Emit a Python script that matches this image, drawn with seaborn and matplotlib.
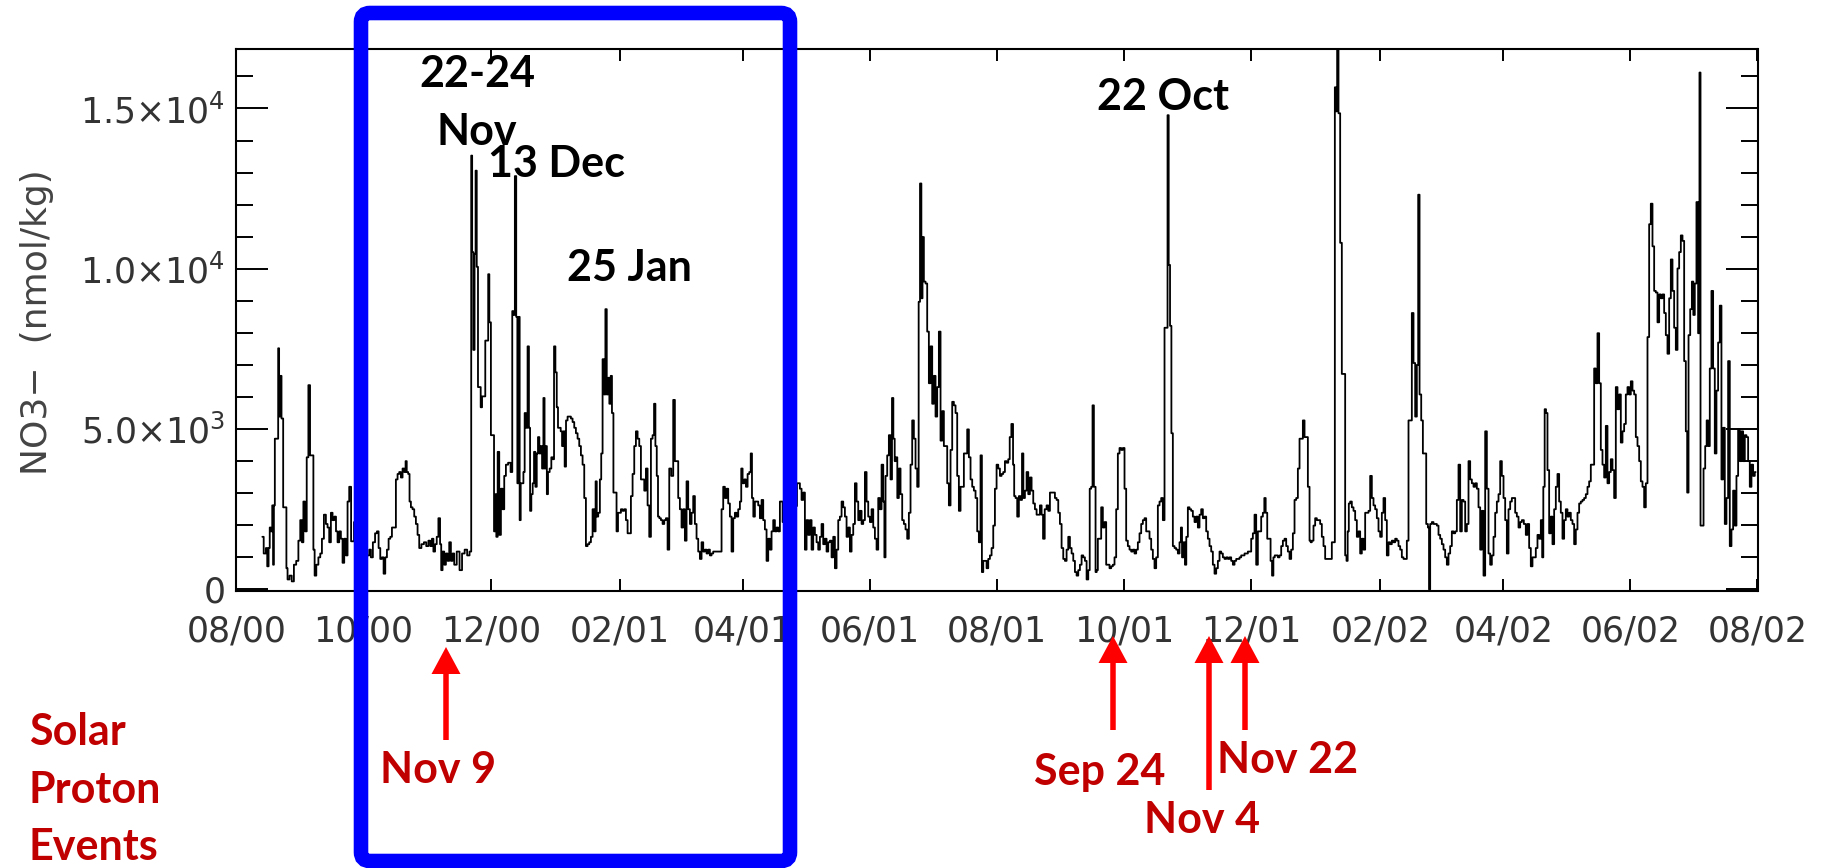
import pandas as pd
import matplotlib
matplotlib.use("Agg")
import matplotlib.pyplot as plt
import matplotlib.dates as mdates
import seaborn as sns
from matplotlib.patches import FancyBboxPatch, FancyArrow
from matplotlib.transforms import IdentityTransform
from matplotlib.ticker import FixedLocator, MultipleLocator, FixedFormatter

# ---------------- data (day offset from 2000-08-01, NO3- nmol/kg) ----------------
START = "2000-08-01"
END = "2002-08-01"

seg_aug_nov00 = [
    (12.4, 1640), (13.7, 1120), (14.5, 1290), (15.0, 720), (15.8, 1290), (16.1, 1930), (16.9, 1810), (17.4, 2620),
    (17.7, 770), (18.2, 2620), (18.6, 4700), (19.8, 4700), (20.2, 7520), (20.7, 5390), (21.2, 6660), (22.0, 5330),
    (22.8, 2560), (23.8, 2560), (24.1, 660), (24.9, 310), (26.0, 430), (27.0, 250), (28.1, 770), (29.2, 890),
    (30.2, 1520), (31.0, 2160), (31.8, 1470), (32.4, 2740), (33.4, 1810), (34.0, 4120), (35.0, 6370), (35.6, 4180),
    (36.6, 4180), (37.2, 1240), (37.8, 430), (38.8, 770), (39.8, 1000), (40.6, 1120), (41.4, 1580), (42.5, 2330),
    (43.3, 2040), (44.1, 1930), (44.9, 1470), (45.7, 2390), (46.5, 2160), (47.4, 2270), (48.1, 1810), (48.9, 1470),
    (49.7, 1810), (50.5, 1580), (51.3, 830), (52.1, 1580), (52.9, 1060), (53.7, 2740), (54.5, 3200), (55.5, 1500),
    (57.3, 2100), (59.1, 1300), (61.0, 900), (63.3, 1060), (64.1, 1240), (64.9, 1000), (66.0, 1470), (67.0, 1750),
    (67.8, 1810), (68.6, 1290), (69.4, 950), (70.2, 1000), (71.0, 490), (71.8, 1000), (72.6, 1240), (73.4, 1580),
    (74.2, 1640), (75.0, 1930), (76.1, 1930), (76.9, 3430), (77.7, 3600), (78.5, 3660), (79.3, 3490), (80.1, 3770),
    (80.9, 3660), (81.4, 4000), (82.0, 3660), (82.8, 3600), (83.3, 2740), (84.1, 2560), (84.9, 2500), (85.7, 2270),
    (86.5, 2040), (87.3, 1700), (88.1, 1290), (89.4, 1410), (90.5, 1470), (91.6, 1350), (92.6, 1520), (93.4, 1350),
    (94.2, 1580), (94.8, 1180), (95.8, 1410), (96.4, 1640), (97.4, 2220), (98.0, 1410), (98.5, 600), (99.3, 1180),
    (100.1, 770), (100.9, 1120), (101.7, 890), (102.5, 1470), (103.3, 890), (104.1, 1120),
]

seg_nov00_feb01 = [
    (104.9, 770), (106.5, 1180), (107.6, 600), (108.9, 1120), (110.1, 1240), (111.3, 1060), (112.4, 1180),
    (112.9, 13530), (113.3, 10520), (114.0, 7470), (114.5, 10470), (115.0, 13060), (115.6, 10060), (116.2, 6310),
    (116.9, 6310), (117.5, 5680), (118.2, 6020), (119.1, 6020), (119.7, 7760), (120.6, 7760), (121.0, 9830),
    (121.7, 8330), (122.5, 4810), (123.3, 4810), (123.9, 1810), (124.4, 2970), (125.0, 1640), (125.7, 4290),
    (126.5, 1700), (127.3, 3140), (128.1, 2500), (128.9, 3540), (129.7, 3890), (131.0, 3950), (132.1, 3660),
    (132.6, 8680), (133.2, 8560), (134.0, 12890), (134.5, 8500), (135.1, 3310), (135.7, 8500), (136.1, 2160),
    (136.7, 3310), (137.4, 3310), (138.0, 3660), (138.6, 5500), (139.3, 5040), (140.1, 7580), (140.6, 5040),
    (141.2, 2450), (141.8, 2970), (142.5, 3310), (143.1, 4290), (143.8, 3200), (144.4, 4240), (145.0, 4750),
    (145.7, 4240), (146.3, 4470), (147.0, 3770), (147.6, 5970), (148.1, 3770), (148.7, 4470), (149.2, 2970),
    (149.8, 3660), (150.8, 3770), (151.4, 4120), (152.1, 4060), (152.7, 7580), (153.4, 6770), (154.0, 5680),
    (154.6, 5040), (155.3, 5040), (155.9, 4930), (156.6, 4470), (157.2, 4930), (157.8, 3830), (158.5, 5270),
    (159.3, 5390), (160.1, 5390), (160.9, 5330), (161.7, 5220), (162.5, 5040), (163.3, 4870), (164.1, 4700),
    (164.9, 4470), (165.7, 4180), (166.5, 3890), (167.3, 2850), (168.1, 1350), (168.9, 1410), (169.7, 1470),
    (170.5, 1640), (171.3, 2500), (172.1, 1810), (172.6, 3370), (173.2, 2270), (174.0, 2390), (174.8, 3430),
    (175.3, 4240), (176.1, 7180), (176.7, 6080), (177.4, 8740), (178.0, 6080), (178.6, 6600), (179.3, 5790),
    (179.9, 6660), (180.5, 5500), (181.3, 3020), (182.0, 3020), (182.8, 1810), (183.4, 2390), (184.1, 2390),
    (184.9, 2500), (185.7, 2450), (186.5, 2500), (187.3, 2160), (188.1, 1750), (188.9, 1750), (189.7, 2910),
    (190.5, 3600), (191.3, 4470), (192.1, 4930), (192.9, 4700), (193.7, 4470), (194.5, 3430), (195.3, 3430),
    (196.1, 3080), (196.9, 3770), (197.7, 2620), (198.5, 1640), (199.3, 4700), (200.1, 4810), (200.7, 5790),
    (201.4, 4470), (202.0, 3540), (202.6, 2270), (203.3, 2220), (204.1, 2160), (204.9, 2040), (205.7, 2160),
    (206.5, 2220), (207.3, 1240), (208.1, 3770),
]

seg_feb01_jun01 = [
    (209.2, 3540), (210.0, 5910), (210.8, 4000), (211.6, 4000), (212.4, 2850), (213.2, 2500), (214.0, 1930),
    (214.8, 2500), (215.6, 1520), (216.4, 3370), (217.2, 2500), (218.0, 2040), (218.8, 2390), (219.6, 2910),
    (220.4, 2040), (221.2, 1580), (222.0, 1180), (222.8, 950), (223.6, 1470), (224.4, 1180), (225.2, 1240),
    (226.0, 1120), (226.8, 1240), (227.6, 1060), (228.4, 1120), (229.2, 1180), (230.8, 1180), (232.4, 1180),
    (233.2, 2500), (234.0, 3200), (234.8, 2850), (235.6, 3140), (236.4, 2680), (237.2, 2270), (238.0, 1180),
    (238.8, 2220), (239.6, 2390), (240.4, 2270), (241.2, 2500), (242.0, 2740), (242.5, 3770), (243.3, 3310),
    (244.1, 3430), (244.9, 3200), (245.7, 3600), (246.5, 3660), (247.1, 4240), (247.7, 2850), (248.4, 2270),
    (249.2, 2740), (250.0, 2740), (250.8, 2620), (251.6, 2220), (252.4, 2790), (253.2, 2160), (254.0, 1870),
    (254.8, 890), (255.6, 1580), (256.4, 1240), (257.2, 1810), (258.0, 2160), (258.8, 1810), (259.6, 1930),
    (260.4, 1810), (261.2, 2740), (263.0, 2100), (265.5, 1700), (268.0, 2600), (270.0, 3310), (270.8, 3140),
    (271.6, 2790), (272.4, 3020), (273.2, 1240), (274.0, 2160), (274.8, 1700), (275.6, 2160), (276.4, 1240),
    (277.2, 1930), (278.0, 1700), (278.8, 1470), (279.6, 1240), (280.4, 1640), (281.2, 2040), (282.0, 1410),
    (282.8, 1580), (283.6, 1180), (284.4, 1470), (285.2, 1520), (286.0, 1000), (286.8, 1640), (287.6, 660),
    (288.4, 1240), (289.2, 2160), (290.0, 2270), (290.8, 2740), (291.6, 2560), (292.4, 2270), (293.2, 1640),
    (294.0, 1930), (294.8, 1180), (295.6, 1700), (296.4, 2040), (297.2, 3310), (298.0, 2740), (298.8, 2160),
    (299.6, 2450), (300.4, 2040), (301.2, 2160), (302.0, 3660), (302.8, 2740), (303.6, 2270), (304.4, 2100),
    (305.2, 2500), (306.0, 1930), (306.8, 1580), (307.6, 1240), (308.4, 2850), (309.2, 2500), (310.0, 3890),
    (310.8, 2740),
]

seg_jun01_sep01 = [
    (311.1, 1000), (311.9, 3540), (312.7, 4180), (313.5, 4810), (314.3, 3430), (314.9, 5970), (315.6, 4700),
    (316.2, 4000), (316.8, 4120), (317.5, 2850), (318.3, 3770), (319.1, 2970), (319.9, 2160), (320.7, 2040),
    (321.5, 1870), (322.3, 1580), (323.1, 2390), (323.9, 3890), (324.7, 5270), (325.5, 4700), (326.3, 3770),
    (327.1, 3200), (327.7, 8970), (328.4, 12660), (329.0, 9080), (329.5, 10990), (330.3, 9600), (331.1, 9540),
    (331.9, 8040), (332.7, 6430), (333.5, 7580), (334.3, 5790), (335.1, 6660), (335.9, 5390), (336.7, 6310),
    (337.5, 8040), (338.3, 4640), (339.1, 5560), (339.9, 4470), (340.7, 4470), (341.5, 3310), (342.3, 2620),
    (343.1, 4350), (343.9, 5850), (344.7, 5740), (345.5, 5500), (346.3, 3540), (347.1, 2450), (347.9, 3200),
    (348.7, 3200), (349.5, 4240), (350.3, 4240), (351.1, 4990), (351.9, 4120), (352.7, 3430), (353.5, 3200),
    (354.3, 3080), (355.1, 2850), (355.9, 1810), (356.7, 1470), (357.5, 4180), (358.0, 540), (358.8, 890),
    (359.6, 890), (360.4, 660), (361.2, 950), (362.0, 1060), (362.8, 1290), (363.6, 1990), (364.4, 3140),
    (365.2, 3890), (366.0, 3770), (366.8, 3540), (367.6, 3600), (368.4, 3660), (369.2, 4000), (370.0, 3950),
    (370.8, 4060), (371.4, 4750), (372.4, 5160), (373.0, 3890), (373.5, 2910), (374.3, 2850), (375.1, 2270),
    (375.9, 2910), (376.7, 2790), (377.3, 4240), (378.0, 2850), (378.8, 3080), (379.6, 3660), (380.4, 2970),
    (381.2, 3490), (382.0, 3080), (382.8, 2680), (383.6, 2500), (384.4, 2330), (385.2, 2330), (386.0, 2620),
    (386.8, 2330), (387.4, 1580), (388.4, 2500), (389.2, 2620), (390.0, 2450), (390.8, 3020), (391.6, 3020),
    (392.4, 3020), (393.2, 2850), (394.0, 2790), (394.8, 2390), (395.6, 2040), (396.4, 1290), (397.2, 950),
    (398.0, 890), (398.8, 1240), (399.6, 1640), (400.4, 1290), (401.2, 1120), (402.0, 890), (402.8, 540),
    (403.6, 430), (404.4, 600), (405.2, 770), (406.0, 1060), (406.8, 1000), (407.6, 890), (408.4, 310),
    (409.2, 600), (409.8, 3140), (410.6, 3200), (411.1, 5740), (411.9, 3200), (412.7, 540),
]

seg_sep01_dec01 = [
    (413.0, 600), (413.8, 1580), (414.6, 1580), (415.4, 2560), (416.2, 1930), (417.0, 2100), (417.8, 770),
    (418.6, 770), (419.4, 660), (420.2, 720), (421.0, 770), (421.8, 1000), (422.6, 2500), (423.4, 4240),
    (424.2, 4410), (425.0, 4350), (425.8, 4410), (426.6, 3140), (427.4, 1520), (428.2, 1350), (429.0, 1240),
    (429.8, 1180), (430.6, 1240), (431.4, 1120), (432.2, 1240), (433.0, 1470), (433.8, 1750), (434.6, 2040),
    (435.4, 2160), (436.2, 2220), (437.0, 1810), (437.8, 1810), (438.6, 1580), (439.4, 1240), (440.2, 950),
    (441.0, 660), (441.8, 1000), (442.6, 2620), (443.4, 2740), (444.2, 2850), (445.0, 2160), (445.8, 8160),
    (446.6, 8160), (447.1, 14790), (447.7, 10120), (448.4, 8220), (449.0, 4870), (449.8, 1350), (450.6, 1290),
    (451.4, 1240), (452.2, 1120), (453.0, 1470), (453.5, 1930), (454.1, 1000), (454.9, 1470), (455.5, 770),
    (456.2, 1640), (457.0, 2560), (457.8, 2500), (458.6, 2450), (459.4, 2270), (460.2, 2100), (461.0, 2270),
    (461.8, 1930), (462.6, 2330), (463.4, 2500), (464.2, 2220), (465.0, 2270), (465.8, 1810), (466.6, 1580),
    (467.4, 1350), (468.2, 1180), (469.0, 770), (469.8, 490), (470.6, 660), (471.4, 890), (472.2, 1180),
    (473.0, 1120), (473.8, 1000), (474.6, 950), (475.4, 1000), (476.2, 950), (477.0, 1000), (477.8, 890),
    (478.6, 770), (479.4, 890), (480.2, 950), (481.0, 950), (481.8, 1000), (482.6, 1060), (483.4, 1060),
    (484.2, 1120), (485.0, 1120), (485.8, 1180), (486.6, 1180), (487.4, 1580), (488.2, 1750), (489.0, 2330),
    (489.8, 770), (490.6, 1810), (491.4, 1810), (492.2, 2270), (493.0, 2390), (493.6, 2850), (494.3, 2390),
    (495.1, 1580), (495.9, 1580), (496.7, 890), (497.3, 430), (498.0, 1000), (498.6, 1060), (499.4, 1060),
    (500.2, 1000), (501.0, 1060), (501.8, 1350), (502.6, 1520), (503.4, 1580), (504.2, 1350), (505.0, 1180),
    (505.8, 950), (506.6, 1240), (507.4, 1750), (508.2, 2790), (509.0, 2850), (509.8, 3770), (510.6, 4700),
    (511.4, 4700), (512.2, 5270), (513.0, 4750), (513.8, 4750), (514.6, 3200), (515.4, 1520),
]

seg_dec01_apr02 = [
    (515.7, 1470), (516.5, 1520), (517.3, 1990), (518.1, 2220), (518.9, 2160), (519.7, 2160), (520.5, 2040),
    (521.3, 1640), (522.1, 1350), (522.9, 950), (523.7, 950), (524.5, 950), (525.3, 950), (526.1, 1470),
    (526.9, 1470), (527.4, 15660), (528.0, 14910), (528.5, 16900), (529.3, 14850), (530.1, 10810), (530.9, 6720),
    (531.7, 6720), (532.5, 1060), (533.0, 890), (533.6, 1810), (534.1, 2680), (534.9, 2740), (535.7, 2560),
    (536.5, 2450), (537.3, 2160), (538.1, 1640), (538.9, 1810), (539.7, 1120), (540.5, 1580), (541.3, 1240),
    (542.1, 2390), (542.9, 2390), (543.7, 2450), (544.5, 3540), (545.3, 2850), (546.1, 2620), (546.9, 2500),
    (547.7, 2220), (548.5, 1810), (549.3, 1640), (550.1, 2390), (550.9, 2850), (551.7, 2160), (552.5, 1060),
    (553.3, 1470), (554.1, 1410), (554.9, 1520), (555.7, 1470), (556.5, 1580), (557.3, 1520), (558.1, 1350),
    (558.9, 1240), (559.7, 1000), (560.5, 950), (561.3, 950), (562.1, 1520), (562.9, 5270), (563.7, 5270),
    (564.5, 8620), (565.3, 7060), (566.1, 5390), (566.9, 7000), (567.4, 12310), (568.2, 6080), (569.0, 5270),
    (569.8, 4240), (570.6, 4240), (571.4, 2040), (572.2, 1930), (572.5, 0), (573.3, 2040), (574.1, 2100),
    (574.9, 2040), (575.7, 2040), (576.5, 1990), (577.3, 1700), (578.1, 1580), (578.9, 1410), (579.7, 1240),
    (580.5, 1000), (581.3, 770), (582.1, 1120), (582.9, 1350), (583.7, 1810), (584.5, 1750), (585.3, 1810),
    (586.1, 2790), (586.9, 3890), (587.7, 1810), (588.5, 2790), (589.3, 2740), (590.1, 1810), (590.9, 2040),
    (591.7, 4000), (592.5, 3430), (593.3, 3310), (594.1, 3200), (594.9, 3310), (595.7, 3140), (596.5, 2560),
    (597.3, 1240), (598.1, 2450), (598.9, 430), (599.7, 4930), (600.5, 3140), (601.3, 1120), (602.1, 770),
    (602.9, 1060), (603.7, 1640), (604.5, 2390), (605.3, 2740), (606.1, 2970), (606.9, 4000), (607.7, 3540),
    (608.5, 2850), (609.3, 2160), (610.1, 1120), (610.9, 2500), (611.7, 2740), (612.5, 2850), (613.3, 2850),
    (614.1, 2390), (614.9, 2270), (615.7, 1930), (616.5, 2100), (617.3, 2160),
]

seg_apr02_aug02 = [
    (618.4, 2040), (619.2, 1700), (620.0, 2040), (620.8, 1290), (621.6, 720), (622.4, 1000), (623.2, 1000),
    (624.0, 1290), (624.8, 1700), (625.6, 1580), (626.4, 2160), (626.9, 1000), (627.5, 3200), (628.2, 5620),
    (628.8, 5500), (629.6, 3720), (630.4, 1750), (631.2, 2270), (632.0, 1410), (632.8, 2500), (633.6, 3200),
    (634.4, 3600), (635.2, 2740), (636.0, 2390), (636.8, 1580), (637.6, 2160), (638.4, 2500), (639.2, 2270),
    (640.0, 2390), (640.8, 2160), (641.6, 2040), (642.4, 1410), (643.2, 1870), (644.0, 2390), (644.8, 2680),
    (645.6, 2740), (646.4, 2790), (647.2, 2850), (648.0, 2970), (648.8, 3200), (649.6, 3370), (650.4, 3890),
    (651.2, 3890), (652.0, 6890), (652.8, 6430), (653.6, 7990), (654.4, 6430), (655.2, 4350), (656.0, 3890),
    (656.8, 3490), (657.6, 5100), (658.4, 3310), (659.2, 3660), (660.0, 4060), (660.8, 3720), (661.6, 2850),
    (662.4, 6310), (663.2, 5620), (664.0, 6080), (664.8, 4580), (665.6, 4930), (666.4, 5160), (667.2, 6080),
    (668.0, 6310), (668.8, 6080), (669.6, 6490), (670.4, 6200), (671.2, 6080), (672.0, 4750), (672.8, 4470),
    (673.6, 4000), (674.4, 3370), (675.2, 3200), (676.0, 2560), (676.8, 3310), (677.6, 7870), (678.4, 11390),
    (679.2, 12030), (680.0, 10700), (680.8, 9310), (681.6, 9260), (682.4, 8330), (683.2, 9200), (684.0, 9080),
    (684.8, 9200), (685.6, 8620), (686.4, 7930), (687.2, 7350), (688.0, 9080), (688.8, 10290), (689.6, 9310),
    (690.4, 8160), (691.2, 7470), (692.0, 10010), (692.8, 10520), (693.6, 11040), (694.4, 10870), (695.2, 7120),
    (696.0, 4930), (696.5, 3020), (697.3, 7930), (698.1, 8740), (698.9, 9600), (699.5, 8560), (700.3, 9540),
    (701.1, 12080), (701.9, 7990), (702.4, 16120), (702.9, 1990), (703.7, 1990), (704.5, 3770), (705.3, 4470),
    (705.9, 5270), (706.7, 4470), (707.5, 6890), (708.3, 9310), (709.1, 6890), (709.9, 4240), (710.7, 6200),
    (711.5, 7700), (712.3, 8850), (713.1, 3430), (713.9, 5040), (714.7, 2040), (715.5, 2850), (716.3, 7120),
    (717.1, 1350), (717.9, 1870), (718.7, 3080), (719.5, 1990), (720.3, 3540), (721.1, 4990), (721.9, 4000),
    (722.7, 4930), (723.5, 4000), (724.3, 4810), (725.1, 4750), (725.9, 4000), (726.7, 3200), (727.5, 3890),
    (728.3, 3540), (729.1, 3660),
]

y_ticks = [0, 5000, 10000, 15000]
y_tick_labels = ["0", r"$5.0{\times}10^{3}$", r"$1.0{\times}10^{4}$", r"$1.5{\times}10^{4}$"]
y_label = "NO3\u2212  (nmol/kg)"
peak_labels = ["22-24", "Nov", "13 Dec", "25 Jan", "22 Oct"]
spe_title = ["Solar", "Proton", "Events"]
spe_labels = ["Nov 9", "Sep 24", "Nov 4", "Nov 22"]

# ---------------- figure ----------------
W, H = 1821, 868
sns.set_theme(style="white")
plt.rcParams["font.family"] = ["DejaVu Sans"]
plt.rcParams["mathtext.default"] = "regular"

rows = (seg_aug_nov00 + seg_nov00_feb01 + seg_feb01_jun01 + seg_jun01_sep01 +
        seg_sep01_dec01 + seg_dec01_apr02 + seg_apr02_aug02)
df = pd.DataFrame(rows, columns=["day", "no3"])
df["date"] = pd.Timestamp(START) + pd.to_timedelta(df["day"], unit="D")

fig = plt.figure(figsize=(W / 100, H / 100), dpi=100)
fig.patch.set_facecolor("white")
ax = fig.add_axes([236.5 / W, 1 - 591 / H, 1521 / W, 542.5 / H])

sns.lineplot(data=df, x="date", y="no3", ax=ax, color="black", linewidth=1.3,
             drawstyle="steps-mid", estimator=None, sort=False)

ax.set_xlim(pd.Timestamp(START), pd.Timestamp(END))
ax.set_ylim(-50, 16870)
ax.xaxis.set_major_locator(mdates.MonthLocator(bymonth=[2, 4, 6, 8, 10, 12]))
ax.xaxis.set_major_formatter(mdates.DateFormatter("%m/%y"))
ax.yaxis.set_major_locator(FixedLocator(y_ticks))
ax.yaxis.set_major_formatter(FixedFormatter(y_tick_labels))
ax.yaxis.set_minor_locator(MultipleLocator(1000))

tick_col = "#333333"
ax.tick_params(axis="y", which="major", direction="in", length=23, width=1.4,
               left=True, right=True, labelsize=25, pad=8, labelcolor=tick_col, color="black")
ax.tick_params(axis="y", which="minor", direction="in", length=12, width=1.4,
               left=True, right=True, color="black")
ax.tick_params(axis="x", which="major", direction="in", length=8.5, width=1.4,
               top=True, bottom=True, labelsize=25, pad=17, labelcolor=tick_col, color="black")
ax.tick_params(axis="x", which="minor", bottom=False, top=False)
for s in ax.spines.values():
    s.set_visible(True)
    s.set_linewidth(1.5)
    s.set_color("black")

ax.set_xlabel("")
ax.set_ylabel(y_label, fontsize=26, color="#444444")
ax.yaxis.set_label_coords((37 - 236.5) / 1521, (591 - 322) / 542.5)
ax.yaxis.label.set_verticalalignment("center")


def fx(x):
    return x / W


def fy(y):
    return 1 - y / H


# black peak annotations
bold_font = dict(family=["Lato", "DejaVu Sans"], weight="bold", fontsize=31)
ax_t = [(477, 86.6, "center"), (477, 144.8, "center"), (488, 177.3, "left"),
        (567, 280.7, "left"), (1097, 110.4, "left")]
for txt, (x, y, ha) in zip(peak_labels, ax_t):
    fig.text(fx(x), fy(y), txt, ha=ha, va="baseline", color="black", **bold_font)

# red solar proton event labels
red_txt = "#C00000"
for txt, y in zip(spe_title, [745, 803, 860]):
    fig.text(fx(29), fy(y), txt, ha="left", va="baseline", color=red_txt, **bold_font)
for txt, (x, y) in zip(spe_labels, [(380, 783), (1034, 785), (1144, 833), (1217, 773)]):
    fig.text(fx(x), fy(y), txt, ha="left", va="baseline", color=red_txt, **bold_font)

# red arrows (x, tip y, tail y) in image pixels
for x, tip, tail in [(446, 647, 740), (1113, 636, 730), (1209, 636, 790), (1245, 636, 730)]:
    arr = FancyArrow(x, H - tail, 0, tail - tip, width=5.5, head_width=29, head_length=27,
                     length_includes_head=True, color="#FF0000", linewidth=0,
                     transform=IdentityTransform())
    fig.add_artist(arr)

# blue highlight box
box = FancyBboxPatch((361, H - 861), 790 - 361, 861 - 13,
                     boxstyle="round,pad=0,rounding_size=9", linewidth=10.5,
                     edgecolor="#0000FF", facecolor="none", transform=IdentityTransform(),
                     zorder=5)
fig.add_artist(box)

fig.savefig("out.png", dpi=100, facecolor="white")
